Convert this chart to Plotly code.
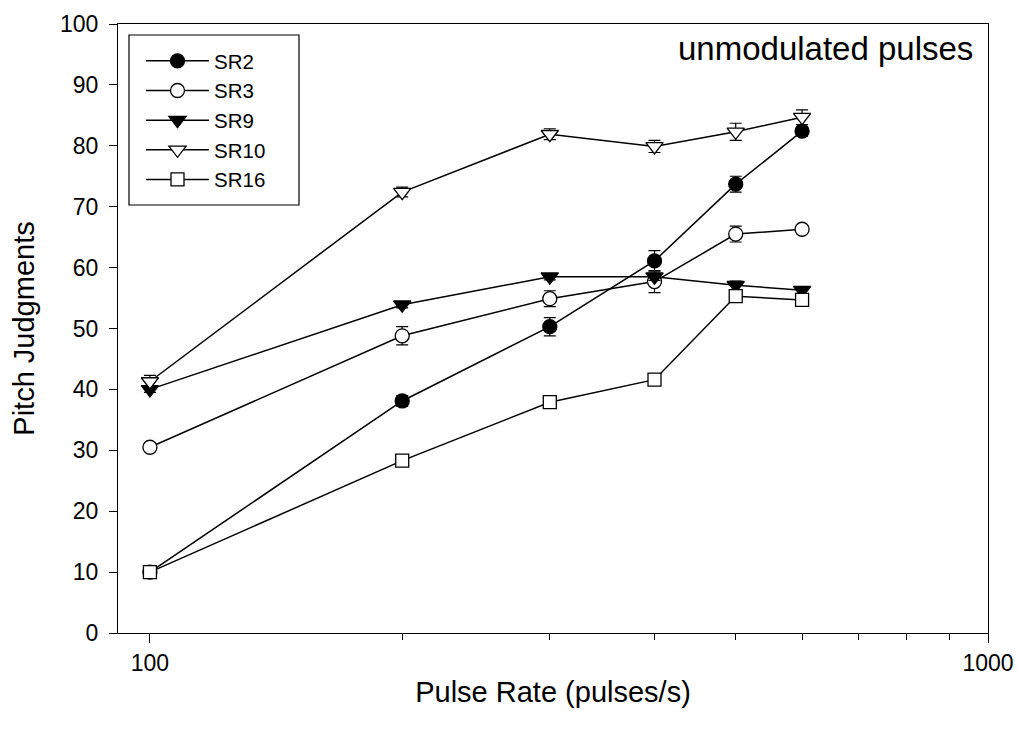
import plotly.graph_objects as go

# Pulse rates (pulses/s) and mean pitch judgments per subject
pulse_rate = [100, 200, 300, 400, 500, 600]

sr2 = [10.0, 38.1, 50.3, 61.1, 73.7, 82.4]
sr3 = [30.5, 48.8, 54.9, 57.7, 65.5, 66.3]
sr9 = [40.0, 53.9, 58.5, 58.5, 57.1, 56.3]
sr10 = [41.3, 72.4, 81.9, 79.9, 82.3, 84.7]
sr16 = [10.0, 28.3, 37.9, 41.6, 55.3, 54.7]

# Standard errors
sr2_err = [0.5, 0.9, 1.5, 1.7, 1.3, 0.8]
sr3_err = [0.4, 1.5, 1.3, 1.8, 1.3, 0.5]
sr9_err = [0.5, 0.5, 0.5, 0.6, 0.7, 0.6]
sr10_err = [1.0, 0.8, 0.9, 1.0, 1.4, 1.2]
sr16_err = [0.5, 0.5, 0.6, 0.5, 0.8, 0.7]

series = [
    ("SR2", sr2, sr2_err, "circle", "black", 14),
    ("SR3", sr3, sr3_err, "circle", "white", 14),
    ("SR9", sr9, sr9_err, "triangle-down", "black", 15),
    ("SR10", sr10, sr10_err, "triangle-down", "white", 15),
    ("SR16", sr16, sr16_err, "square", "white", 13),
]

FONT = "Liberation Sans, Arial, sans-serif"

# plot area in pixels
L, R, T, B = 118, 988, 24, 633
PW, PH = R - L, B - T

fig = go.Figure()
for name, y, err, symbol, fill, size in series:
    fig.add_trace(go.Scatter(
        x=pulse_rate, y=y, name=name, mode="lines+markers",
        line=dict(color="black", width=1.5),
        marker=dict(symbol=symbol, size=size, color=fill,
                    line=dict(color="black", width=1.3)),
        error_y=dict(type="data", array=err, visible=True,
                     color="black", thickness=1.2, width=6),
    ))

fig.update_layout(
    width=1018, height=729,
    margin=dict(l=L, r=1018 - R, t=T, b=729 - B, autoexpand=False),
    plot_bgcolor="white", paper_bgcolor="white",
    font=dict(family=FONT, color="black", size=20),
    showlegend=True,
    legend=dict(
        x=(141 - L) / PW, y=(B - 41) / PH, xanchor="left", yanchor="top",
        bgcolor="rgba(0,0,0,0)", borderwidth=0,
        font=dict(size=20.5, family=FONT), itemwidth=63,
        tracegroupgap=0,
    ),
    shapes=[dict(
        type="rect", xref="paper", yref="paper", layer="above",
        x0=(129 - L) / PW, x1=(299 - L) / PW,
        y0=(B - 205) / PH, y1=(B - 35) / PH,
        line=dict(color="black", width=1.2), fillcolor="white",
    )],
    annotations=[dict(
        text="unmodulated pulses", xref="paper", yref="paper",
        x=(975 - L) / PW, y=(B - 49) / PH, xanchor="right", yanchor="middle",
        showarrow=False,
        font=dict(size=33, family=FONT, color="black"),
    )],
)

fig.update_xaxes(
    type="log", range=[1.9619, 3.0], automargin=False,
    tickvals=[100, 1000], ticktext=["100", "1000"],
    ticks="outside", ticklen=9, tickwidth=1.2, tickcolor="black",
    minor=dict(tickvals=[200, 300, 400, 500, 600, 700, 800, 900],
               ticks="outside", ticklen=6, tickwidth=1.2, tickcolor="black"),
    showline=True, linecolor="black", linewidth=1.2, mirror=True,
    showgrid=False, zeroline=False,
    tickfont=dict(size=23, family=FONT),
    title=dict(text="Pulse Rate (pulses/s)", font=dict(size=29, family=FONT), standoff=6),
)
fig.update_yaxes(
    range=[0, 100], tick0=0, dtick=10, automargin=False,
    ticks="outside", ticklen=8, tickwidth=1.2, tickcolor="black",
    ticklabelstandoff=6,
    showline=True, linecolor="black", linewidth=1.2, mirror=True,
    showgrid=False, zeroline=False,
    tickfont=dict(size=23, family=FONT),
    title=dict(text="Pitch Judgments", font=dict(size=29, family=FONT), standoff=16),
)

fig.write_html("out.html")
